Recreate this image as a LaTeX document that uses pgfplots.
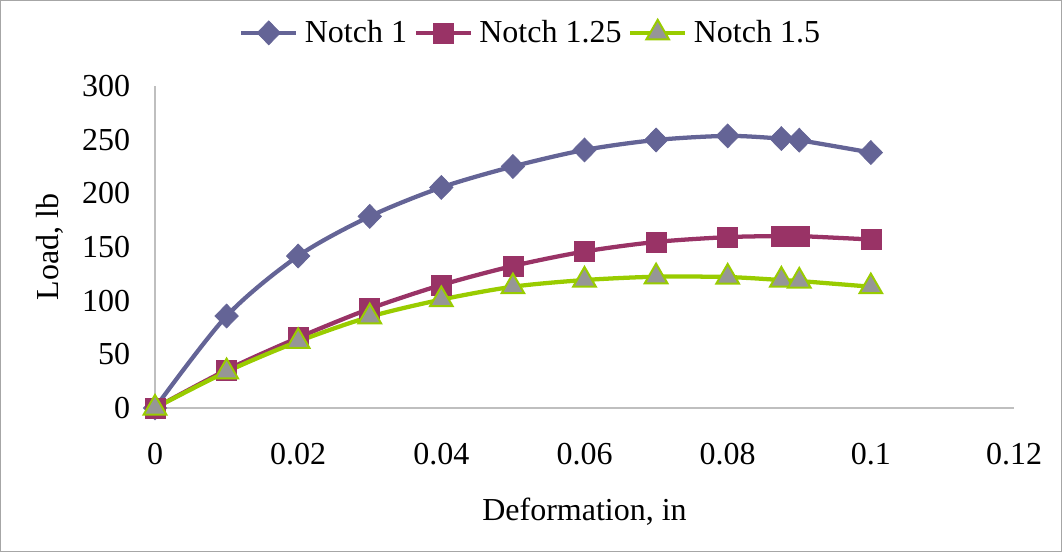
\documentclass[border=0pt]{standalone}
\usepackage{fontspec}
\setmainfont{Liberation Serif}
\usepackage{pgfplots}
\pgfplotsset{compat=1.18}
\definecolor{nA}{HTML}{646496}
\definecolor{nB}{HTML}{993366}
\definecolor{nC}{HTML}{99CC00}
\definecolor{nCfill}{HTML}{969696}
\definecolor{axgray}{HTML}{BFBFBF}
\begin{document}
\begin{tikzpicture}[font=\fontsize{24pt}{28pt}\selectfont]
\useasboundingbox (0,0) rectangle (796.5pt,414pt);
\draw[gray!70, line width=0.75pt] (0.375pt,0.375pt) rectangle (796.125pt,413.625pt);
\begin{axis}[
  at={(116.25pt,108pt)}, anchor=south west,
  scale only axis, width=644.25pt, height=241.5pt,
  xmin=0, xmax=0.12, ymin=0, ymax=300,
  xtick={0,0.02,0.04,0.06,0.08,0.1,0.12},
  xticklabels={0,0.02,0.04,0.06,0.08,0.1,0.12},
  ytick={0,50,100,150,200,250,300},
  scaled x ticks=false,
  /pgf/number format/assume math mode=true,
  axis lines=left, axis line style={axgray, line width=1.1pt, -},
  major tick length=0pt,
  yticklabel style={anchor=east, inner sep=0pt, xshift=-18.5pt},
  xticklabel style={anchor=north, inner sep=0pt, yshift=-26pt},
  xlabel={Deformation, in}, ylabel={Load, lb},
  xlabel style={at={(axis description cs:0.5,-0.323)}, anchor=center},
  ylabel style={at={(axis description cs:-0.122,0.5)}, anchor=center, rotate=0},
  clip=false,
  legend style={at={(axis description cs:0.4377,1.165)}, anchor=center, draw=none, fill=none,
    legend columns=3, column sep=3pt, inner sep=0pt,
    /tikz/every even column/.append style={column sep=3pt}},
  legend cell align=left,
  legend image code/.code={\draw[mark repeat=2,mark phase=2] plot coordinates {(0pt,0pt) (20.5pt,0pt) (41pt,0pt)};},
  every axis plot/.append style={line width=3.2pt, smooth, tension=0.5},
]
\addplot[color=nA, mark=diamond*, mark size=9pt, mark options={solid, fill=nA, line width=0.5pt, xscale=1.3}]
coordinates {(0,0) (0.01,85.7) (0.02,141.6) (0.03,178.5) (0.04,205.5) (0.05,225) (0.06,240.4) (0.07,249.7) (0.08,253.5) (0.0875,251) (0.09,249.5) (0.1,238)};
\addlegendentry{Notch 1}
\addplot[color=nB, mark=square*, mark size=7.5pt, mark options={solid, fill=nB, line width=0.5pt}]
coordinates {(0,0) (0.01,35.4) (0.02,65.5) (0.03,92.5) (0.04,114.6) (0.05,132.3) (0.06,145.8) (0.07,154.7) (0.08,159.2) (0.0875,160.2) (0.09,160.2) (0.1,157)};
\addlegendentry{Notch 1.25}
\addplot[color=nC, mark=triangle*, mark size=9.8pt, mark options={solid, fill=nCfill, draw=nC, line width=1.5pt}]
coordinates {(0,0) (0.01,33.8) (0.02,62) (0.03,85) (0.04,101) (0.05,113) (0.06,119.2) (0.07,122.3) (0.08,122) (0.0875,119.2) (0.09,118.3) (0.1,113)};
\addlegendentry{Notch 1.5}
\end{axis}
\end{tikzpicture}
\end{document}
